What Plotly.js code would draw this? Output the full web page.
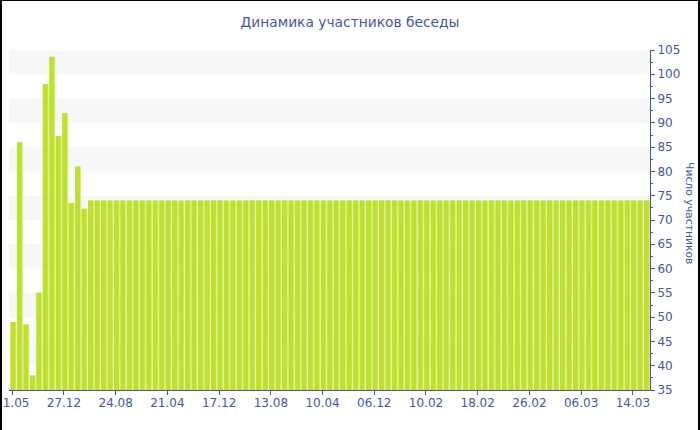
<!DOCTYPE html>
<html>
<head>
<meta charset="utf-8">
<script src="https://cdn.plot.ly/plotly-3.0.1.min.js"></script>
<style>
html,body{margin:0;padding:0;background:#fff;}
#wrap{position:relative;width:700px;height:430px;}
#chart{width:700px;height:430px;}
#frame{position:absolute;left:0;top:0;width:700px;height:430px;box-sizing:border-box;border-left:2px solid #000;border-top:1px solid #000;border-right:2px solid #000;pointer-events:none;}
</style>
</head>
<body>
<div id="wrap"><div id="chart"></div><div id="frame"></div></div>
<script>
// Dates of observations (category axis)
const dates = [
"01.05.2013","31.05.2013","30.06.2013","30.07.2013","29.08.2013","28.09.2013","28.10.2013","27.11.2013","27.12.2013",
"26.01.2014","25.02.2014","27.03.2014","26.04.2014","26.05.2014","25.06.2014","25.07.2014","24.08.2014","23.09.2014","23.10.2014","22.11.2014","22.12.2014",
"21.01.2015","20.02.2015","22.03.2015","21.04.2015","21.05.2015","20.06.2015","20.07.2015","19.08.2015","18.09.2015","18.10.2015","17.11.2015","17.12.2015",
"16.01.2016","15.02.2016","16.03.2016","15.04.2016","15.05.2016","14.06.2016","14.07.2016","13.08.2016","12.09.2016","12.10.2016","11.11.2016","11.12.2016",
"10.01.2017","09.02.2017","11.03.2017","10.04.2017","10.05.2017","09.06.2017","09.07.2017","08.08.2017","07.09.2017","07.10.2017","06.11.2017","06.12.2017",
"14.12.2017","22.12.2017","30.12.2017","07.01.2018","15.01.2018","23.01.2018","01.02.2018",
"10.02.2018","11.02.2018","12.02.2018","13.02.2018","14.02.2018","15.02.2018","16.02.2018","17.02.2018","18.02.2018","19.02.2018",
"20.02.2018","21.02.2018","22.02.2018","23.02.2018","24.02.2018","25.02.2018","26.02.2018","27.02.2018","28.02.2018",
"01.03.2018","02.03.2018","03.03.2018","04.03.2018","05.03.2018","06.03.2018","07.03.2018","08.03.2018","09.03.2018","10.03.2018",
"11.03.2018","12.03.2018","13.03.2018","14.03.2018","15.03.2018","16.03.2018"
];
// Number of participants
const members = [
49,86,48.5,38,55,98,103.6,87.3,92,73.5,81,72.3,
74,74,74,74,74,74,74,74,74,74,74,74,74,74,74,74,74,74,
74,74,74,74,74,74,74,74,74,74,74,74,74,74,74,74,74,74,
74,74,74,74,74,74,74,74,74,74,74,74,74,74,74,74,74,74,
74,74,74,74,74,74,74,74,74,74,74,74,74,74,74,74,74,74,
74,74,74,74,74,74,74,74,74,74,74,74,74,74,74
];
// Tick labels shown on the x axis
const tickDates = ["01.05.2013","27.12.2013","24.08.2014","21.04.2015","17.12.2015","13.08.2016","10.04.2017","06.12.2017","10.02.2018","18.02.2018","26.02.2018","06.03.2018","14.03.2018"];
const tickLabels = ["01.05","27.12","24.08","21.04","17.12","13.08","10.04","06.12","10.02","18.02","26.02","06.03","14.03"];
const yBands = [[40,45],[50,55],[60,65],[70,75],[80,85],[90,95],[100,105]];

const blue = "#4358a4";
const font = "DejaVu Sans, Verdana, sans-serif";

const traces = [
  {type:"bar", x:dates, y:members, width:0.92, offset:-0.27,
   marker:{color:"#d7ec86", line:{width:0}}, hoverinfo:"x+y", showlegend:false},
  {type:"bar", x:dates, y:members, width:0.76, offset:-0.27,
   marker:{color:"#bde12d", line:{width:0}}, hoverinfo:"x+y", showlegend:false}
];

const shapes = yBands.map(b => ({type:"rect", xref:"paper", yref:"y", x0:0, x1:1, y0:b[0], y1:b[1],
  fillcolor:"#f7f7f7", line:{width:0}, layer:"below"}));

const layout = {
  width:700, height:430,
  margin:{l:9, r:50, t:50, b:40, pad:0},
  paper_bgcolor:"#fff", plot_bgcolor:"#fff",
  barmode:"overlay",
  font:{family:font, color:blue, size:12},
  title:{text:"Динамика участников беседы", x:0.5, xref:"container", y:1-22/430, yref:"container", yanchor:"middle",
    font:{family:font, size:13.8, color:blue}},
  xaxis:{type:"category", tickmode:"array", tickvals:tickDates, ticktext:tickLabels,
    showgrid:false, showline:true, linecolor:blue, linewidth:1, ticks:"outside", ticklen:4, tickcolor:blue,
    ticklabelstandoff:-2,
    tickfont:{family:font, size:12, color:blue}, zeroline:false, fixedrange:true},
  yaxis:{side:"right", range:[35,105], dtick:5, tick0:35, showgrid:false, zeroline:false,
    showline:true, linecolor:blue, linewidth:1, ticks:"outside", ticklen:4, tickcolor:blue,
    minor:{dtick:2.5, ticks:"outside", ticklen:2, tickcolor:blue, showgrid:false},
    tickfont:{family:font, size:12, color:blue}, fixedrange:true},
  shapes:shapes,
  annotations:[{text:"Число участников", xref:"paper", yref:"paper", x:(690-9)/641, y:(390-213)/340,
    showarrow:false, textangle:90, xanchor:"center", yanchor:"middle", font:{family:font, size:10.8, color:blue}}]
};

Plotly.newPlot("chart", traces, layout, {displayModeBar:false, staticPlot:true});
</script>
</body>
</html>
